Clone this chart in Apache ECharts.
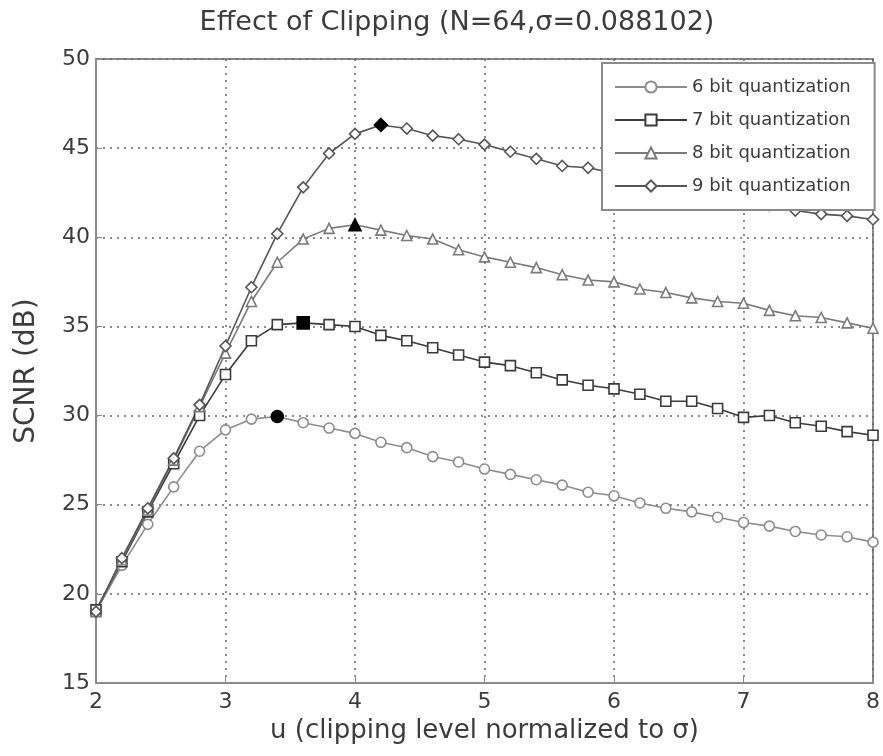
<!DOCTYPE html>
<html><head><meta charset="utf-8">
<script src="https://cdn.jsdelivr.net/npm/echarts@6/dist/echarts.min.js"></script>
<style>html,body{margin:0;padding:0;background:#fff}#c{width:883px;height:756px}</style>
</head><body><div id="c"></div>
<script>
const uValues = [2.0,2.2,2.4,2.6,2.8,3.0,3.2,3.4,3.6,3.8,4.0,4.2,4.4,4.6,4.8,5.0,5.2,5.4,5.6,5.8,6.0,6.2,6.4,6.6,6.8,7.0,7.2,7.4,7.6,7.8,8.0];
const snr6bit = [19.0,21.6,23.9,26.0,28.0,29.2,29.8,29.95,29.6,29.3,29.0,28.5,28.2,27.7,27.4,27.0,26.7,26.4,26.1,25.7,25.5,25.1,24.8,24.6,24.3,24.0,23.8,23.5,23.3,23.2,22.9];
const snr7bit = [19.1,21.8,24.6,27.3,30.0,32.3,34.2,35.1,35.2,35.1,35.0,34.5,34.2,33.8,33.4,33.0,32.8,32.4,32.0,31.7,31.5,31.2,30.8,30.8,30.4,29.9,30.0,29.6,29.4,29.1,28.9];
const snr8bit = [19.0,21.9,24.7,27.5,30.5,33.5,36.4,38.6,39.9,40.5,40.7,40.4,40.1,39.9,39.3,38.9,38.6,38.3,37.9,37.6,37.5,37.1,36.9,36.6,36.4,36.3,35.9,35.6,35.5,35.2,34.9];
const snr9bit = [19.0,22.0,24.8,27.6,30.6,33.9,37.2,40.2,42.8,44.7,45.8,46.3,46.1,45.7,45.5,45.2,44.8,44.4,44.0,43.9,43.6,43.3,43.0,42.7,42.4,42.1,41.8,41.5,41.3,41.2,41.0];
const seriesNames = ['6 bit quantization','7 bit quantization','8 bit quantization','9 bit quantization'];
const titleText = 'Effect of Clipping (N=64,\u03c3=0.088102)';
const xName = 'u (clipping level normalized to \u03c3)';
const yName = 'SCNR (dB)';

const chart = echarts.init(document.getElementById('c'), null, {renderer:'canvas'});
const textColor = '#3c3c3c';
const fontFam = 'DejaVu Sans';

function build(name, vals, symbol, color, size) {
  let peak = 0;
  vals.forEach((v, i) => { if (v > vals[peak]) peak = i; });
  return {
    name: name, type: 'line', symbol: symbol, symbolSize: size, showAllSymbol: true,
    lineStyle: {color: color, width: 1.6},
    itemStyle: {color: '#fff', borderColor: color, borderWidth: 1.6},
    emphasis: {disabled: true},
    data: vals.map((v, i) => i === peak
      ? {value: [uValues[i], v], symbolSize: size + 2, itemStyle: {color: '#000', borderColor: '#000'}}
      : [uValues[i], v])
  };
}

chart.setOption({
  animation: false,
  backgroundColor: '#fff',
  title: {
    text: titleText, left: 452, textAlign: 'center', top: 4,
    textStyle: {fontFamily: fontFam, fontSize: 27, fontWeight: 'normal', color: textColor}
  },
  grid: {left: 96, right: 4, top: 59, bottom: 73, show: true, borderColor: '#8a8a8a', borderWidth: 2, backgroundColor: 'transparent'},
  legend: {
    orient: 'vertical', left: 602, top: 63, selectedMode: false,
    itemWidth: 72, itemHeight: 14, itemGap: 15, padding: [15, 24, 15, 12],
    backgroundColor: '#fff', borderColor: '#8a8a8a', borderWidth: 2,
    textStyle: {fontFamily: fontFam, fontSize: 18, color: textColor},
    data: seriesNames
  },
  xAxis: {
    type: 'value', min: 2, max: 8, interval: 1,
    name: xName, nameLocation: 'middle', nameGap: 30,
    nameTextStyle: {fontFamily: fontFam, fontSize: 26, color: textColor},
    axisLine: {lineStyle: {color: '#8a8a8a', width: 2}},
    axisTick: {inside: true, length: 6, lineStyle: {color: '#8a8a8a'}},
    axisLabel: {margin: 8, fontFamily: fontFam, fontSize: 22, color: textColor},
    splitLine: {show: true, lineStyle: {color: '#666', width: 1.5, type: [2, 5]}}
  },
  yAxis: {
    type: 'value', min: 15, max: 50, interval: 5,
    name: yName, nameLocation: 'middle', nameGap: 55,
    nameTextStyle: {fontFamily: fontFam, fontSize: 28, color: textColor},
    axisLine: {lineStyle: {color: '#8a8a8a', width: 2}},
    axisTick: {inside: true, length: 6, lineStyle: {color: '#8a8a8a'}},
    axisLabel: {margin: 6, fontFamily: fontFam, fontSize: 22, color: textColor},
    splitLine: {show: true, lineStyle: {color: '#666', width: 1.5, type: [2, 5]}}
  },
  series: [
    build(seriesNames[0], snr6bit, 'circle', '#8c8c8c', 10),
    build(seriesNames[1], snr7bit, 'rect', '#3a3a3a', 10),
    build(seriesNames[2], snr8bit, 'triangle', '#7a7a7a', 10),
    build(seriesNames[3], snr9bit, 'diamond', '#555555', 11)
  ]
});
</script></body></html>
